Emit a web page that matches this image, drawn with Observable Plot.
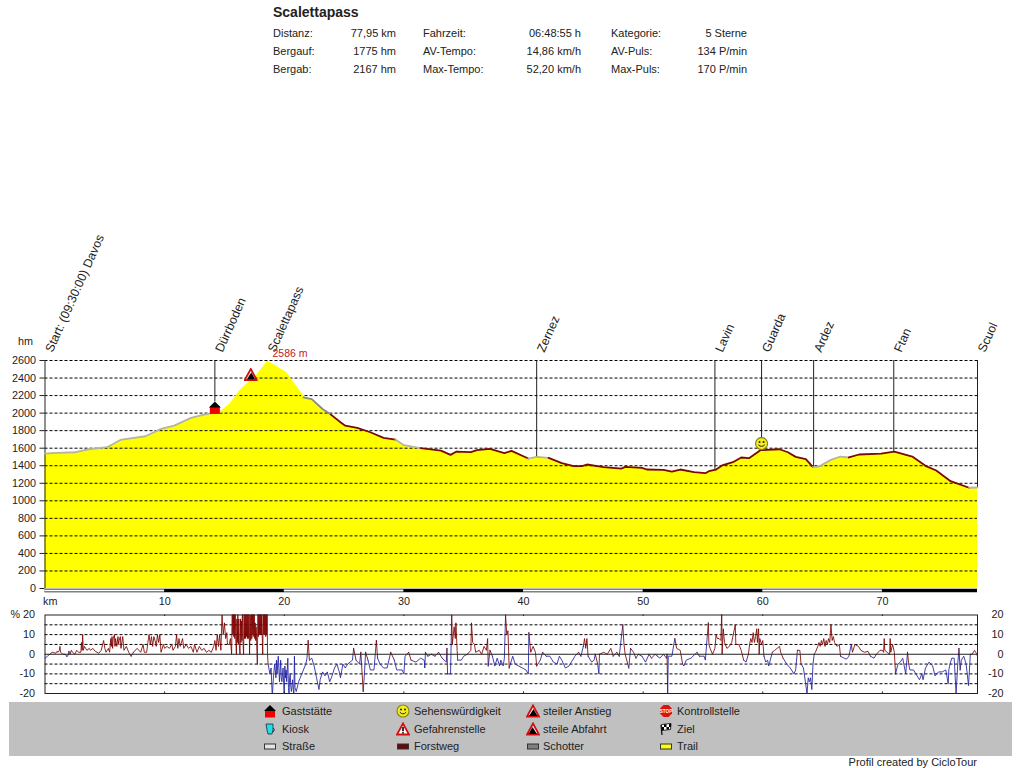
<!DOCTYPE html>
<html><head><meta charset="utf-8">
<script src="https://cdn.jsdelivr.net/npm/d3@7"></script>
<script src="https://cdn.jsdelivr.net/npm/@observablehq/plot@0.6"></script>
<style>
html,body{margin:0;padding:0;background:#fff}
#page{position:relative;width:1021px;height:768px;overflow:hidden;font-family:"Liberation Sans",Arial,sans-serif;color:#222}
.t{position:absolute;font-size:11px;line-height:12px;white-space:nowrap}
#band{position:absolute;left:9px;top:702px;width:1003px;height:54px;background:#c0c0c0}
.ic{position:absolute;width:14px;height:14px}
</style></head><body>
<div id="page"><div id="band"></div></div>
<script>
// ---------- header ----------
const routeTitle = "Scalettapass";
const statLabels = [["Distanz:","Bergauf:","Bergab:"],["Fahrzeit:","AV-Tempo:","Max-Tempo:"],["Kategorie:","AV-Puls:","Max-Puls:"]];
const statValues = [["77,95 km","1775 hm","2167 hm"],["06:48:55 h","14,86 km/h","52,20 km/h"],["5 Sterne","134 P/min","170 P/min"]];

// ---------- elevation profile ----------
const profileKm = [0,1,2.56,3.5,5.2,6.3,7,8.4,9.7,10.8,12.2,13.3,14.7,15.5,16.3,17.7,18.6,20.1,20.8,21.6,22.3,23.2,23.9,24.7,25.1,26.1,27.2,28.3,29.3,30,31.4,33.1,33.9,34.4,35.6,36.1,37.2,38.4,39,40.4,41.1,42.1,43.2,44.2,44.9,45.3,46.7,48.2,48.5,49.9,50.3,51.7,52.4,53.1,54.25,55.2,55.5,56.1,56.6,57.5,58.2,58.85,59.8,61.4,62.1,62.75,63.6,64.2,64.7,65.7,66.5,67.2,68.05,69.9,71,72.5,73.6,74.5,75.7,77.25,77.95];
const profileElev = [1539,1547,1554,1585,1611,1694,1710,1736,1820,1857,1945,1983,2017,2104,2255,2426,2586,2464,2331,2180,2160,2047,1983,1895,1857,1831,1782,1717,1698,1634,1600,1573,1524,1562,1554,1577,1592,1543,1569,1482,1501,1490,1429,1395,1395,1414,1384,1368,1387,1376,1357,1353,1334,1357,1327,1315,1338,1357,1403,1440,1494,1486,1577,1588,1554,1501,1475,1384,1391,1467,1505,1494,1528,1539,1562,1505,1399,1346,1224,1149,1152];
const elevTicks = [200,400,600,800,1000,1200,1400,1600,1800,2000,2200,2400,2600];
const elevLabels = [0,...elevTicks];
const kmTicks = [10,20,30,40,50,60,70];
const whiteFrom = [0,20,40,60];
const whiteTo = [10,30,50,70];

// surface type along the route
const surfaceFrom = [0,14.7,21.6,23.9,29.3,31.4,40.4,42.1,64.2,67.2,77.25];
const surfaceTo   = [14.7,21.6,23.9,29.3,31.4,40.4,42.1,64.2,67.2,77.25,77.95];
const surfaceColor= ["#b4b4a8","#ffff00","#8a8a80","#7a0a0a","#b4b4a8","#7a0a0a","#b4b4a8","#7a0a0a","#b4b4a8","#7a0a0a","#b4b4a8"];

// way points
const poiKm   = [0,14.2,18.6,41.1,56,59.9,64.25,70.95,77.95];
const poiName = ["Start: (09:30:00) Davos","Dürrboden","Scalettapass","Zernez","Lavin","Guarda","Ardez","Ftan","Scuol"];
const poiLine = [false,true,false,true,true,true,true,true,true];
const poiBase = [0,2130,0,1490,1357,1700,1384,1562,1152];
const peakKm = 18.6, peakElev = 2586, peakLabel = "2586 m";

// ---------- gradient [km, %] ----------
const gradient = [[0,-2],[0.2,-1],[0.4,0],[0.6,1],[0.9,0.5],[1,1.5],[1.1,1],[1.2,2],[1.25,4],[1.3,1],[1.5,0],[1.7,0],[1.8,-1],[1.9,-1],[2,1.5],[2.1,0],[2.2,2],[2.3,1],[2.5,0],[2.65,2],[2.8,1],[3,1],[3.05,6],[3.1,2],[3.15,10],[3.2,2],[3.3,4],[3.4,3],[3.5,2],[3.7,3],[3.8,2],[4,3],[4.2,1.5],[4.5,0.5],[4.7,2],[4.9,7],[5,3],[5.1,1],[5.3,3],[5.4,1],[5.5,8],[5.55,4],[5.6,9],[5.65,3],[5.7,8],[5.8,10],[5.85,4],[5.9,8],[6,4],[6.1,9],[6.15,5],[6.2,7],[6.3,9],[6.35,3],[6.5,9],[6.6,2],[6.8,4],[7,1],[7.2,-1],[7.4,1],[7.7,3],[8,1],[8.2,5],[8.3,1],[8.5,1],[8.6,6],[8.7,10],[8.8,5],[8.9,9],[9,4],[9.1,9],[9.2,7],[9.3,4],[9.4,10],[9.5,6],[9.6,10],[9.7,1],[9.9,5],[10,3],[10.2,4],[10.4,3],[10.6,5],[10.7,2],[10.9,4],[11,10],[11.1,3],[11.2,8],[11.3,4],[11.5,8],[11.6,3],[11.8,5],[12,3],[12.2,4],[12.4,1],[12.5,5],[12.7,1],[12.9,4],[13.1,2],[13.3,3],[13.5,1],[13.7,2],[13.9,1],[14.1,4],[14.2,7],[14.3,2],[14.4,10],[14.5,4],[14.6,10],[14.7,2],[14.8,20],[14.9,10],[15,16],[15.1,8],[15.2,11],[15.25,5],[15.4,5],[15.5,8],[15.6,0],[15.65,24],[15.7,10],[15.74,24],[15.78,9],[15.82,24],[15.86,8],[15.9,24],[15.94,9],[16,0],[16.04,18],[16.08,6],[16.12,22],[16.16,5],[16.2,18],[16.24,5],[16.3,0],[16.34,18],[16.38,6],[16.42,17],[16.46,7],[16.5,24],[16.54,8],[16.6,0],[16.64,24],[16.68,8],[16.72,24],[16.76,8],[16.8,24],[16.84,9],[16.88,24],[16.92,8],[16.96,24],[17,8],[17.05,24],[17.1,0],[17.15,20],[17.2,7],[17.25,24],[17.29,8],[17.33,24],[17.37,10],[17.41,22],[17.45,9],[17.49,24],[17.53,8],[17.57,16],[17.61,7],[17.65,14],[17.75,-5],[17.8,24],[17.84,9],[17.88,24],[17.92,10],[17.96,24],[18,10],[18.04,24],[18.08,10],[18.12,24],[18.16,9],[18.2,0],[18.25,22],[18.29,10],[18.33,24],[18.37,10],[18.41,24],[18.45,9],[18.49,24],[18.53,10],[18.57,24],[18.6,0],[18.65,-5],[18.8,-10],[18.9,-7],[19,-22],[19.1,-11],[19.2,-5],[19.3,-12],[19.35,-3],[19.4,-10],[19.5,-1],[19.6,-14],[19.7,-3],[19.75,-12],[19.8,-14],[19.9,-7],[20,-22],[20.05,-6],[20.1,-12],[20.15,-8],[20.2,-14],[20.3,-2],[20.35,-17],[20.4,-20],[20.45,-12],[20.5,-10],[20.55,-17],[20.6,-19],[20.7,-13],[20.8,-22],[20.85,-1],[20.9,-17],[21,-19],[21.2,-14],[21.4,-11],[21.6,-8],[21.8,-5],[21.9,-2],[22,7],[22.1,-3],[22.3,-2],[22.5,-6],[22.7,-12],[22.9,-18],[23,-13],[23.2,-9],[23.4,-11],[23.6,-9],[23.8,-14],[24,-11],[24.2,-7],[24.4,-5],[24.6,-9],[24.7,-12],[24.9,-5],[25.1,-7],[25.3,-5],[25.7,-3],[25.8,3],[26,-3],[26.3,-5],[26.4,1],[26.6,-19],[26.7,-10],[26.8,1],[27,-3],[27.2,-8],[27.5,-8],[27.7,7],[27.8,-2],[28,-5],[28.3,-7],[28.6,-7],[28.9,1],[29.2,-3],[29.4,-8],[29.85,-8],[30,-10],[30.1,-1],[30.4,1],[30.6,-3],[31,-4],[31.4,-2],[31.7,-3],[31.75,-7],[31.8,1],[32,-1],[32.3,0],[32.6,-1],[32.9,1],[33.2,-2],[33.55,-4],[33.6,3],[33.65,-10],[33.9,-10],[34,20],[34.05,5],[34.2,14],[34.3,8],[34.35,16],[34.45,2],[34.5,-3],[34.8,-3],[35,-1],[35.3,0],[35.6,2],[35.65,16],[35.75,6],[35.9,5],[36,1],[36.3,2],[36.5,0],[36.7,4],[36.9,2],[37,8],[37.05,-6],[37.2,2],[37.4,-1],[37.6,-6],[37.8,-2],[38,-6],[38.1,-3],[38.3,-6],[38.4,-2],[38.5,20],[38.6,10],[38.7,12],[38.8,-7],[38.9,-5],[39.1,-1],[39.3,-5],[39.6,-6],[39.9,-7],[40.2,-8],[40.4,-10],[40.45,11],[40.6,1],[40.8,4],[41,1],[41.1,-6],[41.4,-3],[41.6,1],[41.9,-1],[42.2,-1],[42.5,-4],[42.8,-5],[43,-1],[43.2,-3],[43.5,-7],[43.8,-6],[44,-4],[44.3,-1],[44.6,1],[44.8,-1],[45,4],[45.1,8],[45.2,3],[45.3,8],[45.4,-1],[45.7,-4],[45.9,-3],[46,0],[46.2,-5],[46.3,-10],[46.35,0],[46.7,1],[47,0],[47.3,3],[47.5,-1],[47.8,1],[48,-1],[48.3,15],[48.4,5],[48.5,0],[48.8,-7],[48.95,3],[49.2,1],[49.4,-2],[49.6,0],[49.9,-1],[50.2,-4],[50.5,0],[50.7,-2],[51,0],[51.2,-1],[51.4,-2],[51.7,0],[51.95,-2],[52,0],[52.05,-20],[52.1,-1],[52.4,-1],[52.65,8],[52.8,3],[53.1,2],[53.3,-5],[53.4,-6],[53.6,-3],[54,-2],[54.5,1],[54.7,-1],[54.9,-1],[55.1,-1],[55.2,-3],[55.45,16],[55.5,5],[55.6,3],[55.8,0],[56,3],[56.1,10],[56.2,8],[56.35,8],[56.5,7],[56.57,22],[56.6,0],[56.7,13],[56.8,6],[57,3],[57.2,4],[57.4,6],[57.7,15],[57.75,5],[58,5],[58.2,2],[58.4,-3],[58.6,-4],[58.8,0],[58.9,5],[59,8],[59.1,6],[59.2,11],[59.3,6],[59.4,9],[59.5,13],[59.55,6],[59.65,13],[59.7,0],[59.75,8],[59.9,5],[60,7],[60.1,-1],[60.25,-4],[60.4,-3],[60.5,-6],[60.8,1],[61,2],[61.2,3],[61.4,4],[61.5,1],[61.7,-2],[62,-5],[62.3,-7],[62.6,-10],[62.75,-8],[62.9,2],[63.1,2],[63.2,-5],[63.4,-7],[63.7,-20],[63.8,-12],[63.9,-14],[64,-12],[64.1,-18],[64.2,-5],[64.3,0],[64.4,1],[64.6,4],[64.7,6],[64.8,4],[64.9,7],[65,5],[65.1,8],[65.2,4],[65.3,7],[65.4,5],[65.5,8],[65.6,6],[65.7,15],[65.8,7],[65.9,9],[66,6],[66.2,4],[66.4,5],[66.5,-1],[66.8,-2],[67,-2.5],[67.2,-1],[67.4,5],[67.5,1],[67.7,5],[68,4],[68.2,2],[68.5,1],[68.8,1.5],[69,-1],[69.3,-2],[69.5,0],[69.8,2],[70,2],[70.1,1],[70.15,8],[70.2,2],[70.4,1],[70.6,0],[70.65,8],[70.7,1],[70.85,5],[71,1],[71.1,-10],[71.3,-5],[71.5,-4],[71.7,-2],[71.95,-10],[72.1,1],[72.2,-5],[72.3,-8],[72.6,-8],[72.8,-10],[73.1,-13],[73.3,-10],[73.4,-13],[73.6,-7],[73.9,-4],[74.2,-6],[74.4,-11],[74.7,-9],[75,-9],[75.3,-8],[75.5,-15],[75.55,-8],[75.7,-4],[75.8,-2],[76,-2],[76.16,-20],[76.3,-5],[76.4,3],[76.5,-8],[76.6,-3],[76.8,-1],[77,-5],[77.2,-16],[77.35,0],[77.5,0],[77.7,2],[77.85,0.5],[77.95,-1]];
const gradeGrid = [-15,-10,-5,5,10,15];
const gradeTicks = [-20,-10,0,10,20];

// ---------- legend ----------
const legendNames = [["Gaststätte","Kiosk","Straße"],["Sehenswürdigkeit","Gefahrenstelle","Forstweg"],["steiler Anstieg","steile Abfahrt","Schotter"],["Kontrollstelle","Ziel","Trail"]];
const legendIcons = [["house","kiosk","road"],["smile","danger","forest"],["up","down","gravel"],["stop","flag","trail"]];
const legendIconX = [263,396,526,659];
const legendTextX = [282,414,543,677];
const legendRowY = [704,722,739];
const creditText = "Profil created by CicloTour";

// ---------- icons ----------
const svgIcon = inner => "data:image/svg+xml," + encodeURIComponent(`<svg xmlns="http://www.w3.org/2000/svg" viewBox="0 0 14 14">${inner}</svg>`);
const swatch = f => svgIcon(`<rect x="1.5" y="5" width="11" height="5" fill="${f}" stroke="#333" stroke-width="1"/>`);
const icons = {
  house: svgIcon(`<rect x="2" y="6.5" width="10" height="7" fill="#f00000"/><path d="M7 1 L13 7 L1 7 Z" fill="#000"/>`),
  kiosk: svgIcon(`<path d="M3 2 H10 V8 L9 12 H5 L4 8 Z" fill="#20e0e0" stroke="#224" stroke-width="0.8"/><path d="M10 6 Q13 7 10 10" fill="none" stroke="#222"/>`),
  smile: svgIcon(`<circle cx="7" cy="7" r="6" fill="#f4ee20" stroke="#8a8a10" stroke-width="1.2"/><circle cx="5" cy="5.5" r="1" fill="#222"/><circle cx="9" cy="5.5" r="1" fill="#222"/><path d="M3.8 8.2 Q7 11.5 10.2 8.2" fill="none" stroke="#222"/>`),
  danger: svgIcon(`<path d="M7 1.5 L13 12.5 L1 12.5 Z" fill="#fff" stroke="#d01010" stroke-width="1.8"/><path d="M7 5 V9.2" stroke="#000" stroke-width="1.6"/><circle cx="7" cy="10.8" r="0.9" fill="#000"/>`),
  up: svgIcon(`<path d="M7 1.5 L13 12.5 L1 12.5 Z" fill="#fff" stroke="#d01010" stroke-width="1.8"/><path d="M3 12 L7.5 5 L11.5 12 Z" fill="#000"/>`),
  down: svgIcon(`<path d="M7 1.5 L13 12.5 L1 12.5 Z" fill="#fff" stroke="#d01010" stroke-width="1.8"/><path d="M2.5 12 L6.5 5 L11 12 Z" fill="#000"/>`),
  stop: svgIcon(`<path d="M4.5 1 H9.5 L13 4.5 V9.5 L9.5 13 H4.5 L1 9.5 V4.5 Z" fill="#e01010"/><text x="7" y="9" font-size="4.6" font-family="Liberation Sans" font-weight="bold" text-anchor="middle" fill="#fff">STOP</text>`),
  flag: svgIcon(`<path d="M3 13 L2 3" stroke="#000" stroke-width="1.2"/><path d="M2.5 2.5 L12 1.5 L11.5 7.5 L3 8.5 Z" fill="#fff" stroke="#000" stroke-width="0.8"/><path d="M5 2.3 H7.5 V5 H5 Z M7.5 5 H10 V7.5 H7.5 Z M10 2 H12 V5 H10 Z M3 5 H5 V8 H3 Z" fill="#000"/>`),
  road: swatch("#e4e4e4"), forest: swatch("#6a0808"), gravel: swatch("#808080"), trail: swatch("#ffff00")
};
const poiIconKm = [14.2,17.2,59.9];
const poiIconElev = [2065,2440,1653];
const poiIconName = ["house","up","smile"];

// ---------- page furniture ----------
const page = document.getElementById("page");
function put(txt, left, y, opts = {}) {
  const s = document.createElement("div");
  s.className = "t"; s.textContent = txt; s.style.top = y + "px";
  if (opts.right != null) s.style.right = (1021 - opts.right) + "px"; else s.style.left = left + "px";
  Object.assign(s.style, opts.css || {});
  page.appendChild(s);
}
put(routeTitle, 273, 4, {css:{fontSize:"14px",fontWeight:"bold",lineHeight:"16px"}});
const labelX = [273,423,611], valueRight = [396,581,747], rowY = [27,45,63];
statLabels.forEach((col,c)=>col.forEach((t,r)=>{
  put(t,labelX[c],rowY[r]);
  put(statValues[c][r],0,rowY[r],{right:valueRight[c]});
}));
legendNames.forEach((col,c)=>col.forEach((t,r)=>{
  const im=document.createElement("img"); im.className="ic"; im.src=icons[legendIcons[c][r]];
  im.style.left=legendIconX[c]+"px"; im.style.top=legendRowY[r]+"px"; page.appendChild(im);
  put(t,legendTextX[c],legendRowY[r]+1);
}));
put(creditText,0,756,{right:977});

// ---------- top chart ----------
const profile = profileKm.map((km,i)=>({km,elev:profileElev[i]}));
const colorAt = km => surfaceColor[surfaceFrom.findIndex((f,i)=>km>=f && km<surfaceTo[i])] ?? surfaceColor[surfaceColor.length-1];
const pois = poiKm.map((km,i)=>({km,name:poiName[i],line:poiLine[i],base:poiBase[i]}));
const poiIcons = poiIconKm.map((km,i)=>({km,elev:poiIconElev[i],name:poiIconName[i]}));
const whiteBands = whiteFrom.map((from,i)=>({from,to:whiteTo[i]}));
const font = {fontFamily:'"Liberation Sans",Arial,sans-serif',fontSize:"10.8px",color:"#222",background:"transparent",overflow:"visible"};

const profileChart = Plot.plot({
  width:1021, height:378, marginLeft:44.5, marginRight:44, marginTop:130, marginBottom:20,
  style:font,
  x:{domain:[0,77.95],axis:null}, y:{domain:[0,2600],axis:null},
  marks:[
    Plot.areaY(profile,{x:"km",y:"elev",fill:"#ffff00"}),
    Plot.ruleX(pois.filter(d=>d.line),{x:"km",y1:"base",y2:2600,stroke:"#222",strokeWidth:1}),
    Plot.ruleY(elevTicks,{y:d=>d,x1:0,x2:77.95,stroke:"#000",strokeWidth:1,strokeDasharray:"3,2"}),
    Plot.ruleX([0],{y1:0,y2:2600,stroke:"#222"}),
    Plot.line(profile,{x:"km",y:"elev",z:null,stroke:d=>colorAt(d.km),strokeWidth:1.8}),
    Plot.ruleY([0],{x1:0,x2:77.95,stroke:"#000",strokeWidth:3.6,dy:2}),
    Plot.ruleY(whiteBands,{x1:"from",x2:"to",y:0,stroke:"#fff",strokeWidth:1.8,dy:2}),
    Plot.axisY({ticks:elevLabels,tickSize:5,tickPadding:4,tickFormat:d=>String(d)}),
    Plot.axisX({ticks:kmTicks,tickSize:0,tickPadding:9,tickFormat:d=>String(d)}),
    Plot.text(["km"],{x:0,y:0,dx:-2,dy:13,textAnchor:"start"}),
    Plot.text(["hm"],{x:0,y:2600,dx:-12,dy:-19,textAnchor:"end"}),
    Plot.text(pois,{x:"km",y:2600,text:"name",rotate:-66,textAnchor:"start",dx:4,dy:-9,fontSize:12.3}),
    Plot.text([peakLabel],{x:peakKm,y:peakElev,dx:5,dy:-8,textAnchor:"start",fill:"#c02020",fontSize:10.5}),
    Plot.image(poiIcons,{x:"km",y:"elev",src:d=>icons[d.name],width:14,height:14})
  ]
});
profileChart.style.position="absolute"; profileChart.style.left="0"; profileChart.style.top="230px";
page.appendChild(profileChart);

// ---------- gradient chart ----------
const gradeChart = Plot.plot({
  width:1021, height:95, marginLeft:44.5, marginRight:44, marginTop:9.5, marginBottom:7,
  style:font,
  x:{domain:[0,77.95],axis:null}, y:{domain:[-20,20],axis:null},
  marks:[
    Plot.ruleY(gradeGrid,{y:d=>d,stroke:"#000",strokeDasharray:"3,2"}),
    Plot.line(gradient,{x:d=>d[0],y:d=>d[1],z:null,stroke:d=>d[1]>=0?"#800000":"#2020a0",strokeWidth:0.85,clip:true}),
    Plot.ruleY([0],{stroke:"#222",strokeWidth:1}),
    Plot.ruleX(kmTicks,{x:d=>d,y1:-20,y2:-19.2,stroke:"#222"}),
    Plot.ruleX(kmTicks,{x:d=>d,y1:20,y2:19.2,stroke:"#222"}),
    Plot.frame({stroke:"#222"}),
    Plot.axisY({ticks:gradeTicks,tickSize:0,tickPadding:10,tickFormat:d=>d===20?"% 20":String(d)}),
    Plot.axisY({anchor:"right",ticks:gradeTicks,tickSize:0,tickPadding:26,textAnchor:"end",tickFormat:d=>String(d)})
  ]
});
gradeChart.style.position="absolute"; gradeChart.style.left="0"; gradeChart.style.top="605px";
page.appendChild(gradeChart);
</script>
</body></html>
